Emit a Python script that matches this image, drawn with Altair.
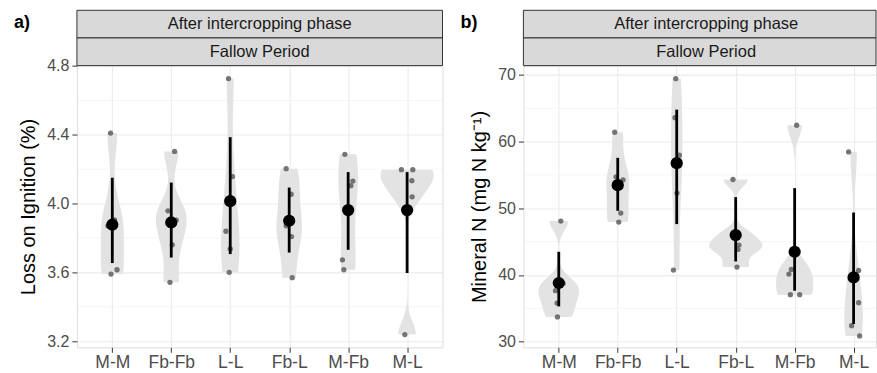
import numpy as np
import pandas as pd
import altair as alt

FONT = "Liberation Sans"

categories = ["M-M", "Fb-Fb", "L-L", "Fb-L", "M-Fb", "M-L"]
strip_labels = ["After intercropping phase", "Fallow Period"]

# ---- panel a: Loss on ignition (%) ----
loi_points = [
    [4.41, 3.905, 3.87, 3.615, 3.59],
    [4.303, 3.958, 3.904, 3.76, 3.542],
    [4.727, 4.157, 3.839, 3.736, 3.60],
    [4.203, 4.054, 3.871, 3.808, 3.569],
    [4.286, 4.131, 4.104, 3.673, 3.615],
    [4.197, 4.197, 4.133, 4.039, 3.238],
]
loi_jitter = [
    [-0.029, 0.039, -0.073, 0.080, -0.022],
    [0.056, -0.056, 0.085, 0.017, -0.022],
    [-0.029, 0.039, -0.073, 0.0, -0.017],
    [-0.051, 0.034, -0.051, 0.039, 0.051],
    [-0.056, 0.080, 0.046, -0.097, -0.073],
    [-0.097, 0.097, 0.080, 0.085, -0.039],
]
loi_mean = [3.877, 3.89, 4.014, 3.90, 3.962, 3.962]
loi_low = [3.654, 3.686, 3.706, 3.715, 3.731, 3.596]
loi_high = [4.15, 4.122, 4.386, 4.093, 4.183, 4.183]
loi_ticks = [3.2, 3.6, 4.0, 4.4, 4.8]
loi_minor = [3.4, 3.8, 4.2, 4.6]

# ---- panel b: Mineral N (mg N kg-1) ----
minn_points = [
    [48.08, 38.74, 37.64, 35.79, 33.70],
    [61.41, 54.72, 54.27, 49.28, 47.93],
    [69.45, 63.6, 57.97, 52.28, 40.74],
    [54.32, 46.08, 44.48, 43.83, 41.19],
    [62.46, 40.83, 40.14, 37.04, 37.04],
    [58.46, 40.68, 35.84, 32.40, 30.85],
]
minn_jitter = [
    [0.034, 0.073, -0.056, -0.029, -0.022],
    [-0.051, -0.029, 0.090, 0.051, 0.017],
    [-0.017, -0.029, 0.046, 0.005, -0.056],
    [-0.046, 0.0, 0.056, 0.039, 0.022],
    [0.034, -0.056, -0.097, -0.073, 0.085],
    [-0.085, 0.085, 0.085, -0.034, 0.102],
]
minn_mean = [38.79, 53.47, 56.77, 45.98, 43.48, 39.64]
minn_low = [35.29, 49.63, 47.63, 42.03, 37.64, 32.65]
minn_high = [43.48, 57.57, 64.8, 51.68, 53.03, 49.37]
minn_ticks = [30, 40, 50, 60, 70]
minn_minor = [35, 45, 55, 65]


def nrd0(x):
    x = np.asarray(x, float)
    hi = x.std(ddof=1)
    q75, q25 = np.percentile(x, [75, 25])
    lo = min(hi, (q75 - q25) / 1.34)
    if lo == 0:
        lo = hi or abs(x[0]) or 1.0
    return 0.9 * lo * len(x) ** -0.2


def violin_table(points):
    rows = []
    for i, (cat, pts) in enumerate(zip(categories, points)):
        pts = np.asarray(pts, float)
        bw = nrd0(pts)
        grid = np.linspace(pts.min(), pts.max(), 300)
        dens = np.exp(-0.5 * ((grid[:, None] - pts[None, :]) / bw) ** 2).sum(1) / (
            len(pts) * bw * np.sqrt(2 * np.pi))
        for g, d in zip(grid, dens):
            rows.append((i, cat, float(g), float(d)))
    df = pd.DataFrame(rows, columns=["i", "cat", "v", "dens"])
    df["w"] = df["dens"] / df["dens"].max()
    return df


def point_table(points, jitter):
    rows = []
    for i, (cat, pts, jit) in enumerate(zip(categories, points, jitter)):
        for p, j in zip(pts, jitter[i]):
            rows.append((i, cat, p, j))
    return pd.DataFrame(rows, columns=["i", "cat", "v", "j"])


def summary_table(mean, low, high):
    return pd.DataFrame({"i": list(range(len(categories))), "cat": categories,
                         "mean": mean, "low": low, "high": high})


H = 282
PX_PER_UNIT = 366 / 6.2
label_expr = "[" + ",".join("'%s'" % c for c in categories) + "][datum.value]"


def panel(points, jitter, mean, low, high, ytitle, ydomain, yticks, yminor,
          yfmt, width, tag):
    xmax = -0.6 + width / PX_PER_UNIT
    xs = alt.Scale(domain=[-0.6, xmax], nice=False, zero=False)
    ys = alt.Scale(domain=ydomain, nice=False, zero=False)
    xaxis = alt.Axis(values=list(range(len(categories))), labelExpr=label_expr,
                     title=None, grid=True, gridColor="#EBEBEB", gridWidth=1.1,
                     tickSize=5, tickColor="#333333", tickWidth=1,
                     labelFontSize=17.5, labelColor="#4D4D4D", labelPadding=1,
                     labelFont=FONT, domain=False, labelFlush=False)
    yaxis = alt.Axis(values=yticks, format=yfmt, title=ytitle, grid=True,
                     gridColor="#EBEBEB", gridWidth=1.1, tickSize=5,
                     tickColor="#333333", tickWidth=1, labelFontSize=16,
                     labelColor="#4D4D4D", labelPadding=3, labelFont=FONT,
                     titleFont=FONT, titleFontSize=20, titleFontWeight="normal",
                     titleColor="#000000", titlePadding=8, domain=False,
                     labelFlush=False)

    minor = alt.Chart(pd.DataFrame({"m": yminor})).mark_rule(
        color="#F2F2F2", strokeWidth=0.8).encode(
        y=alt.Y("m:Q", scale=ys, axis=yaxis))

    violin = alt.Chart(violin_table(points)).transform_calculate(
        x0="datum.i - 0.45 * datum.w", x1="datum.i + 0.45 * datum.w"
    ).mark_area(orient="horizontal", color="#E3E3E3", opacity=1).encode(
        y=alt.Y("v:Q", scale=ys, axis=yaxis),
        x=alt.X("x0:Q", scale=xs, axis=xaxis),
        x2="x1:Q",
        detail="cat:N",
    )

    pts = alt.Chart(point_table(points, jitter)).transform_calculate(
        xj="datum.i + datum.j"
    ).mark_circle(size=28, color="#5E5E5E", opacity=0.85).encode(
        x=alt.X("xj:Q", scale=xs, axis=xaxis),
        y=alt.Y("v:Q", scale=ys, axis=yaxis),
    )

    summ = alt.Chart(summary_table(mean, low, high))
    err = summ.mark_rule(color="#000000", strokeWidth=2.8).encode(
        x=alt.X("i:Q", scale=xs, axis=xaxis),
        y=alt.Y("low:Q", scale=ys, axis=yaxis),
        y2="high:Q",
    )
    mn = summ.mark_circle(size=150, color="#000000", opacity=1).encode(
        x=alt.X("i:Q", scale=xs, axis=xaxis),
        y=alt.Y("mean:Q", scale=ys, axis=yaxis),
    )

    s1 = alt.Chart(pd.DataFrame({"label": [strip_labels[0]]}))
    s2 = alt.Chart(pd.DataFrame({"label": [strip_labels[1]]}))
    strip1 = s1.mark_rect(fill="#D9D9D9", stroke="#333333", strokeWidth=1).encode(
        x=alt.value(0), x2=alt.value(width), y=alt.value(-55.4), y2=alt.value(-27.7))
    strip2 = s2.mark_rect(fill="#D9D9D9", stroke="#333333", strokeWidth=1).encode(
        x=alt.value(0), x2=alt.value(width), y=alt.value(-27.7), y2=alt.value(0))
    t1 = s1.mark_text(font=FONT, fontSize=16.5, color="#1A1A1A", baseline="middle").encode(
        x=alt.X(datum=2.5, scale=xs, axis=xaxis), y=alt.value(-41.5), text="label:N")
    t2 = s2.mark_text(font=FONT, fontSize=16.5, color="#1A1A1A", baseline="middle").encode(
        x=alt.X(datum=2.5, scale=xs, axis=xaxis), y=alt.value(-13.8), text="label:N")

    tg = alt.Chart(pd.DataFrame({"t": [tag]})).mark_text(
        font=FONT, fontSize=18, fontWeight="bold", align="left",
        baseline="middle", color="#000000").encode(
        x=alt.value(-63), y=alt.value(-43), text="t:N")

    return alt.layer(minor, violin, pts, err, mn, strip1, strip2, t1, t2, tg).properties(
        width=width, height=H)


pa = panel(loi_points, loi_jitter, loi_mean, loi_low, loi_high,
           "Loss on Ignition (%)", [3.164, 4.802], loi_ticks, loi_minor, ".1f", 366, "a)")
pb = panel(minn_points, minn_jitter, minn_mean, minn_low, minn_high,
           "Mineral N (mg N kg\u207b\u00b9)", [29.15, 71.4], minn_ticks, minn_minor, "d", 353, "b)")

chart = alt.hconcat(pa, pb, spacing=16).properties(
    padding={"left": 13, "top": 8.5, "right": 0, "bottom": 0},
    background="#FFFFFF",
).configure_view(stroke="#333333", strokeWidth=1).configure(font=FONT)

chart.save("out.html", embed_options={"renderer": "svg", "actions": False})
